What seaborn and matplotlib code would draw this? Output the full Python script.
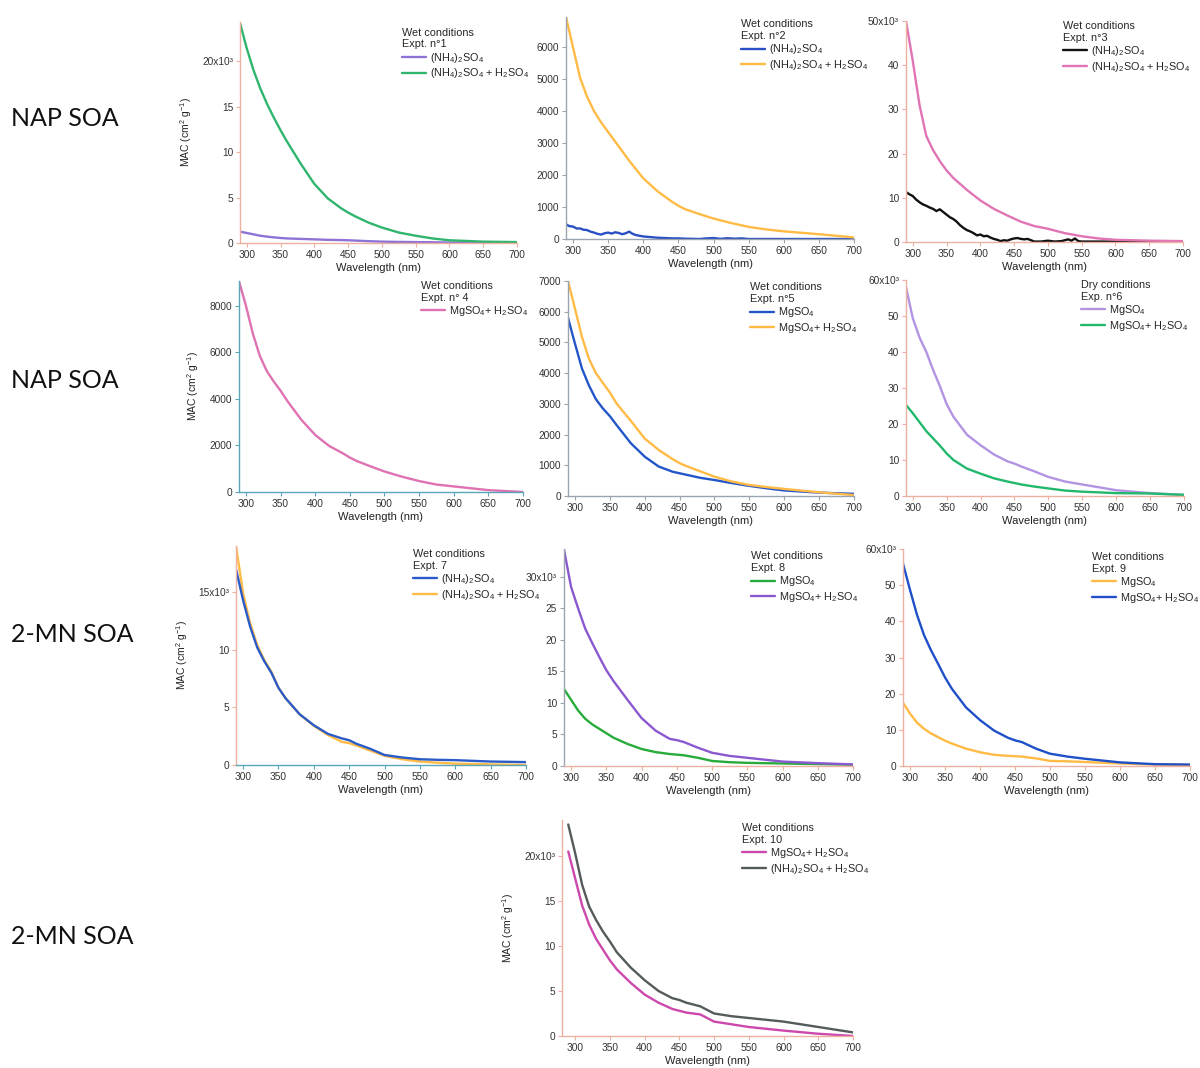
import matplotlib
matplotlib.use('Agg')
import matplotlib.pyplot as plt
import seaborn as sns

# Shared wavelength grid (nm)
wl = [290, 300, 310, 320, 330, 340, 350, 360, 380, 400, 420, 440, 450, 460,
      480, 500, 525, 550, 575, 600, 650, 700]

# Expt 1 (x10^3)
p1_amsulf = [1.25, 1.1, 0.95, 0.8, 0.7, 0.62, 0.55, 0.5, 0.45, 0.4, 0.35, 0.32,
             0.3, 0.27, 0.2, 0.15, 0.12, 0.1, 0.08, 0.05, 0.05, 0.05]
p1_amsulf_acid = [24.2, 21.4, 19.0, 17.0, 15.3, 13.8, 12.4, 11.1, 8.7, 6.5, 4.9, 3.8,
                  3.35, 2.95, 2.25, 1.7, 1.15, 0.8, 0.5, 0.3, 0.15, 0.1]

# Expt 2
wl_p2_noisy = [290, 295, 300, 305, 310, 315, 320, 325, 330, 335, 340, 345, 350, 355,
               360, 365, 370, 375, 380, 385, 390, 400, 410, 420, 430, 440, 450, 460,
               470, 480, 490, 500, 510, 520, 530, 540, 550, 560, 600, 650, 700]
p2_amsulf = [460, 400, 390, 330, 330, 290, 280, 230, 200, 160, 140, 180, 200, 170,
             210, 190, 150, 180, 230, 160, 120, 80, 60, 40, 30, 20, 20, 10,
             5, 0, 20, 30, 5, 25, 10, 20, 0, 0, 0, 0, 0]
p2_amsulf_acid = [6950, 6000, 5050, 4450, 4000, 3650, 3350, 3050, 2450, 1900, 1500, 1180,
                  1040, 930, 780, 640, 500, 380, 300, 240, 150, 50]

# Expt 3 (x10^3)
wl_p3_noisy = [290, 295, 300, 305, 310, 315, 320, 325, 330, 335, 340, 345, 350, 355,
               360, 365, 370, 375, 380, 385, 390, 395, 400, 405, 410, 415, 420, 425,
               430, 435, 440, 445, 450, 455, 460, 465, 470, 480, 490, 500, 510, 520,
               530, 535, 540, 545, 550, 600, 650, 700]
p3_amsulf = [11.3, 10.8, 10.4, 9.6, 9.0, 8.5, 8.2, 7.8, 7.5, 7.0, 7.4, 6.8, 6.2, 5.6,
             5.2, 4.6, 3.8, 3.2, 2.7, 2.4, 2.0, 1.5, 1.7, 1.3, 1.4, 1.0, 0.7, 0.5,
             0.2, 0.4, 0.3, 0.6, 0.8, 0.9, 0.7, 0.6, 0.7, 0.1, 0.1, 0.3, 0.1, 0.2,
             0.6, 0.3, 0.8, 0.2, 0.1, 0.1, 0.05, 0.0]
p3_amsulf_acid = [50, 41, 31, 24, 20.8, 18.3, 16.2, 14.5, 11.8, 9.4, 7.5, 6.0,
                  5.3, 4.6, 3.6, 3.0, 2.0, 1.3, 0.8, 0.5, 0.3, 0.2]

# Expt 4
p4_mg_acid = [9050, 8000, 6800, 5850, 5200, 4750, 4350, 3900, 3100, 2450, 1980, 1660,
              1480, 1330, 1100, 880, 660, 470, 320, 240, 80, 0]

# Expt 5
p5_mg = [5800, 4960, 4150, 3600, 3150, 2850, 2600, 2300, 1720, 1280, 960, 790,
         740, 690, 590, 520, 420, 330, 250, 180, 110, 70]
p5_mg_acid = [7000, 6100, 5180, 4470, 4000, 3680, 3370, 3000, 2450, 1870, 1500, 1200,
              1070, 970, 800, 630, 470, 360, 290, 230, 120, 30]

# Expt 6 (x10^3)
p6_mg = [58, 49.4, 44, 40, 35, 30.5, 25.5, 22.0, 17.0, 14.1, 11.5, 9.6,
         9.0, 8.2, 6.8, 5.3, 4.0, 3.2, 2.4, 1.6, 0.8, 0.3]
p6_mg_acid = [25.3, 23, 20.5, 18, 16, 14, 11.8, 10.0, 7.6, 6.2, 4.9, 4.0,
              3.6, 3.2, 2.6, 2.1, 1.5, 1.2, 1.0, 0.8, 0.7, 0.3]

# Expt 7 (x10^3)
p7_amsulf = [17, 14.3, 12.0, 10.2, 9.0, 8.0, 6.7, 5.8, 4.4, 3.45, 2.7, 2.3,
             2.15, 1.85, 1.4, 0.87, 0.65, 0.5, 0.45, 0.42, 0.3, 0.25]
p7_amsulf_acid = [19, 14.9, 12.3, 10.4, 9.1, 8.1, 6.7, 5.8, 4.4, 3.4, 2.6, 2.0,
                  1.9, 1.7, 1.25, 0.8, 0.5, 0.3, 0.2, 0.12, 0.05, 0.0]

# Expt 8 (x10^3)
p8_mg = [12.2, 10.5, 8.8, 7.5, 6.6, 5.9, 5.2, 4.5, 3.5, 2.7, 2.2, 1.9,
         1.8, 1.7, 1.3, 0.8, 0.6, 0.5, 0.45, 0.4, 0.3, 0.2]
p8_mg_acid = [34.3, 28.4, 25, 21.8, 19.5, 17.3, 15.2, 13.5, 10.5, 7.6, 5.6, 4.3,
              4.1, 3.8, 2.9, 2.1, 1.6, 1.3, 1.0, 0.7, 0.45, 0.25]

# Expt 9 (x10^3)
p9_mg = [17.5, 14.5, 12, 10.3, 9, 8, 7, 6.2, 4.8, 3.8, 3.1, 2.8,
         2.7, 2.6, 2.1, 1.4, 1.3, 1.1, 0.9, 0.7, 0.4, 0.3]
p9_mg_acid = [56, 48.7, 41.8, 36.2, 32, 28.3, 24.5, 21.3, 16.2, 12.7, 9.8, 7.8,
              7.1, 6.6, 4.8, 3.4, 2.6, 2.0, 1.5, 1.0, 0.5, 0.4]

# Expt 10 (x10^3)
p10_mg_acid = [20.5, 17.5, 14.5, 12.4, 10.8, 9.6, 8.4, 7.4, 5.9, 4.6, 3.7, 3.0,
               2.8, 2.6, 2.4, 1.6, 1.3, 1.0, 0.8, 0.6, 0.25, 0.0]
p10_amsulf_acid = [23.5, 20.3, 16.8, 14.4, 12.9, 11.6, 10.5, 9.3, 7.6, 6.2, 5.0, 4.2,
                   4.0, 3.7, 3.3, 2.5, 2.2, 2.0, 1.8, 1.6, 1.0, 0.4]

# Legend / tick text
AS = r'(NH$_4$)$_2$SO$_4$'
AS_ACID = r'(NH$_4$)$_2$SO$_4$ + H$_2$SO$_4$'
MG = r'MgSO$_4$'
MG_ACID = r'MgSO$_4$+ H$_2$SO$_4$'
row_labels = ['NAP SOA', 'NAP SOA', '2-MN SOA', '2-MN SOA']
x_ticks = [300, 350, 400, 450, 500, 550, 600, 650, 700]

sns.set_style('ticks')
plt.rcParams['font.family'] = ['Liberation Sans', 'DejaVu Sans']
plt.rcParams['mathtext.default'] = 'regular'

fig = plt.figure(figsize=(12, 10.68), dpi=100)
W, H = 1200, 1068

SALMON = '#eeb0a0'
TEAL = '#5aa5b8'
GREY = '#9aa4b0'

panels = [
    dict(rect=(240, 517, 22, 243), x0=290, ytop=24.3,
         yticks=[0, 5, 10, 15, 20], ylabels=['0', '5', '10', '15', '20x10³'],
         title='Wet conditions\nExpt. n°1', lpos=(0.585, 0.975),
         series=[(wl, p1_amsulf, AS, '#8f72d6'), (wl, p1_amsulf_acid, AS_ACID, '#2fb56e')],
         spines=(SALMON, SALMON), ylab=True),
    dict(rect=(566, 854, 17, 239), x0=290, ytop=6950,
         yticks=[0, 1000, 2000, 3000, 4000, 5000, 6000],
         ylabels=['0', '1000', '2000', '3000', '4000', '5000', '6000'],
         title='Wet conditions\nExpt. n°2', lpos=(0.608, 0.99),
         series=[(wl_p2_noisy, p2_amsulf, AS, '#2a4fc4'), (wl, p2_amsulf_acid, AS_ACID, '#ffbb45')],
         spines=(GREY, GREY), ylab=False),
    dict(rect=(906, 1183, 21, 242), x0=290, ytop=50,
         yticks=[0, 10, 20, 30, 40, 50], ylabels=['0', '10', '20', '30', '40', '50x10³'],
         title='Wet conditions\nExpt. n°3', lpos=(0.567, 1.0),
         series=[(wl_p3_noisy, p3_amsulf, AS, '#111111'), (wl, p3_amsulf_acid, AS_ACID, '#e074b4')],
         spines=(SALMON, SALMON), ylab=False),
    dict(rect=(239, 523, 281, 492), x0=290, ytop=9060,
         yticks=[0, 2000, 4000, 6000, 8000], ylabels=['0', '2000', '4000', '6000', '8000'],
         title='Wet conditions\nExpt. n° 4', lpos=(0.641, 1.0),
         series=[(wl, p4_mg_acid, MG_ACID, '#de72b2')],
         spines=(TEAL, TEAL), ylab=True),
    dict(rect=(568, 854, 281, 496), x0=290, ytop=7000,
         yticks=[0, 1000, 2000, 3000, 4000, 5000, 6000, 7000],
         ylabels=['0', '1000', '2000', '3000', '4000', '5000', '6000', '7000'],
         title='Wet conditions\nExpt. n°5', lpos=(0.636, 0.995),
         series=[(wl, p5_mg, MG, '#2356c8'), (wl, p5_mg_acid, MG_ACID, '#ffbb45')],
         spines=(GREY, GREY), ylab=False),
    dict(rect=(906, 1184, 280, 496), x0=290, ytop=60,
         yticks=[0, 10, 20, 30, 40, 50, 60], ylabels=['0', '10', '20', '30', '40', '50', '60x10³'],
         title='Dry conditions\nExp. n°6', lpos=(0.63, 1.0),
         series=[(wl, p6_mg, MG, '#b294e2'), (wl, p6_mg_acid, MG_ACID, '#22b86c')],
         spines=(SALMON, SALMON), ylab=False),
    dict(rect=(236, 526, 546, 765), x0=290, ytop=19,
         yticks=[0, 5, 10, 15], ylabels=['0', '5', '10', '15x10³'],
         title='Wet conditions\nExpt. 7', lpos=(0.61, 0.986),
         series=[(wl, p7_amsulf_acid, AS_ACID, '#ffbb45'), (wl, p7_amsulf, AS, '#2a5bc8')],
         spines=(SALMON, TEAL), ylab=True),
    dict(rect=(564, 853, 549, 766), x0=290, ytop=34.4,
         yticks=[0, 5, 10, 15, 20, 25, 30], ylabels=['0', '5', '10', '15', '20', '25', '30x10³'],
         title='Wet conditions\nExpt. 8', lpos=(0.647, 0.99),
         series=[(wl, p8_mg, MG, '#27ab3a'), (wl, p8_mg_acid, MG_ACID, '#8a58cf')],
         spines=(GREY, SALMON), ylab=False),
    dict(rect=(903, 1190, 549, 766), x0=290, ytop=60,
         yticks=[0, 10, 20, 30, 40, 50, 60], ylabels=['0', '10', '20', '30', '40', '50', '60x10³'],
         title='Wet conditions\nExpt. 9', lpos=(0.659, 0.986),
         series=[(wl, p9_mg, MG, '#ffbb45'), (wl, p9_mg_acid, MG_ACID, '#1f50c8')],
         spines=(SALMON, SALMON), ylab=False),
    dict(rect=(562, 853, 820, 1036), x0=281, ytop=24,
         yticks=[0, 5, 10, 15, 20], ylabels=['0', '5', '10', '15', '20x10³'],
         title='Wet conditions\nExpt. 10', lpos=(0.619, 0.986),
         series=[(wl, p10_mg_acid, MG_ACID, '#cc48ac'), (wl, p10_amsulf_acid, AS_ACID, '#555a5a')],
         spines=(SALMON, SALMON), ylab=True),
]

for p in panels:
    l, r, t, b = p['rect']
    ax = fig.add_axes([l / W, 1 - b / H, (r - l) / W, (b - t) / H])
    for x, y, lab, col in p['series']:
        sns.lineplot(x=x, y=y, ax=ax, color=col, linewidth=1.7, label=lab)
    ax.set_xlim(p['x0'], 700)
    ax.set_ylim(0, p['ytop'])
    ax.set_xticks(x_ticks)
    ax.set_xticklabels([str(v) for v in x_ticks], fontsize=7.3, color='#333333')
    ax.set_yticks(p['yticks'])
    ax.set_yticklabels(p['ylabels'], fontsize=7.3, color='#333333')
    ax.set_xlabel('Wavelength (nm)', fontsize=8, color='#222222', labelpad=2.5)
    if p['ylab']:
        ax.set_ylabel(r'MAC (cm$^2$ g$^{-1}$)', fontsize=7.5, color='#222222', labelpad=6)
    else:
        ax.set_ylabel('')
    for side in ['top', 'right']:
        ax.spines[side].set_visible(False)
    ax.spines['left'].set_color(p['spines'][0])
    ax.spines['bottom'].set_color(p['spines'][1])
    ax.spines['left'].set_linewidth(1.0)
    ax.spines['bottom'].set_linewidth(1.0)
    ax.tick_params(axis='x', colors=p['spines'][1], labelcolor='#333333',
                   length=3, width=0.8, pad=2)
    ax.tick_params(axis='y', colors=p['spines'][0], labelcolor='#333333',
                   length=3, width=0.8, pad=2)
    # legend order follows the reference
    hs, ls = ax.get_legend_handles_labels()
    order = [AS, MG, AS_ACID, MG_ACID]
    if p['title'].endswith('10'):
        order = [MG_ACID, AS_ACID]
    pairs = sorted(zip(hs, ls), key=lambda hl: order.index(hl[1]))
    leg = ax.legend([h for h, _ in pairs], [s for _, s in pairs], title=p['title'],
                    loc='upper left', bbox_to_anchor=p['lpos'], frameon=False,
                    fontsize=7.8, title_fontsize=7.8, borderpad=0, borderaxespad=0,
                    labelspacing=0.15, handlelength=2.2, handletextpad=0.4,
                    alignment='left')
    leg.get_title().set_multialignment('left')

row_y = [119, 380, 634, 937]
for lab, y in zip(row_labels, row_y):
    fig.text(11 / W, 1 - y / H, lab, fontsize=18, family=['Lato', 'DejaVu Sans'],
             va='center', ha='left', color='#111111')

fig.savefig('out.png', dpi=100, facecolor='white')
